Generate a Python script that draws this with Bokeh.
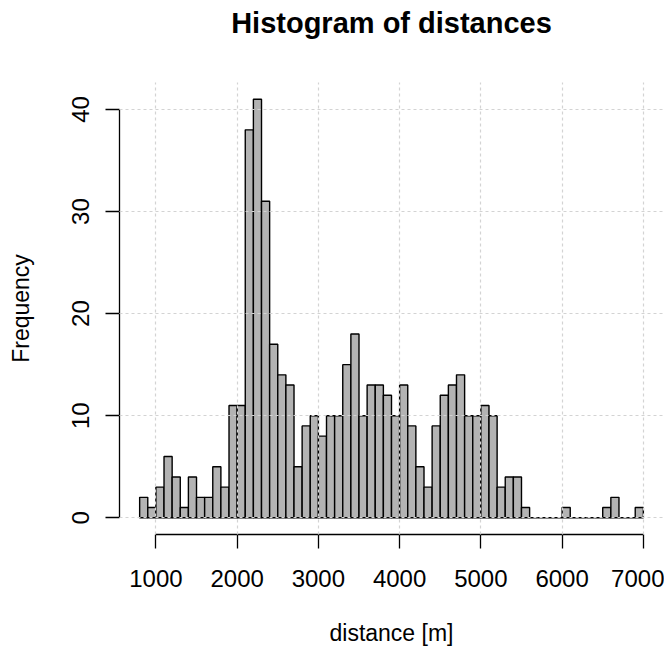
from bokeh.plotting import figure
from bokeh.models import FixedTicker, Range1d, Title
from bokeh.embed import file_html
from bokeh.resources import INLINE

# Histogram bins (lower edges, width 100 m) and counts
bin_width = 100
bin_starts = list(range(800, 7000, bin_width))
counts = [2, 1, 3, 6, 4, 1, 4, 2, 2, 5, 3, 11, 11, 38, 41, 31, 17, 14, 13, 5,
          9, 10, 8, 10, 10, 15, 18, 10, 13, 13, 12, 10, 13, 9, 5, 3, 9, 12, 13, 14,
          10, 10, 11, 10, 3, 4, 4, 1, 0, 0, 0, 0, 1, 0, 0, 0, 0, 1, 2, 0,
          0, 1]
x_ticks = [1000, 2000, 3000, 4000, 5000, 6000, 7000]
y_ticks = [0, 10, 20, 30, 40]
title_text = "Histogram of distances"

lefts = bin_starts
rights = [b + bin_width for b in bin_starts]

FONT = "Liberation Sans"

xmin, xmax = min(lefts), max(rights)
ymax = max(counts)
xpad = (xmax - xmin) * 0.04
ypad = ymax * 0.04

p = figure(width=664, height=648, output_backend="svg", toolbar_location=None,
           x_range=Range1d(xmin - xpad, xmax + xpad),
           y_range=Range1d(-ypad, ymax + ypad),
           min_border_left=119, min_border_right=1, min_border_top=82, min_border_bottom=110)
p.outline_line_color = None
p.background_fill_color = "white"

# spacer panel next to the frame, then the real title above it
spacer = Title(text=" ", text_font_size="1px", standoff=41)
p.add_layout(spacer, "above")
main_title = Title(text=title_text, align="center", text_font=FONT,
                   text_font_size="29px", text_font_style="bold", text_color="black",
                   standoff=0)
p.add_layout(main_title, "above")

p.quad(left=lefts, right=rights, bottom=0, top=counts,
       fill_color="#B3B3B3", line_color="black", line_width=1.4)

for ax, ticks in ((p.xaxis[0], x_ticks), (p.yaxis[0], y_ticks)):
    ax.ticker = FixedTicker(ticks=ticks)
    ax.minor_tick_line_color = None
    ax.major_tick_in = 0
    ax.major_tick_out = 14
    ax.axis_line_width = 1.3
    ax.major_tick_line_width = 1.3
    ax.major_label_text_font = FONT
    ax.major_label_text_font_size = "24px"
    ax.major_label_text_color = "black"
    ax.axis_label_text_font = FONT
    ax.axis_label_text_font_size = "23px"
    ax.axis_label_text_font_style = "normal"
    ax.axis_label_text_color = "black"

p.xaxis.bounds = (x_ticks[0], x_ticks[-1])
p.yaxis.bounds = (y_ticks[0], y_ticks[-1])
p.xaxis.axis_label = "distance [m]"
p.yaxis.axis_label = "Frequency"
p.xaxis.major_label_standoff = 21
p.xaxis.axis_label_standoff = 30
p.yaxis.major_label_standoff = 16
p.yaxis.axis_label_standoff = 36
p.yaxis.major_label_orientation = "vertical"

p.xgrid.ticker = FixedTicker(ticks=x_ticks)
p.ygrid.ticker = FixedTicker(ticks=y_ticks)
for g in (p.xgrid[0], p.ygrid[0]):
    g.grid_line_color = "#D3D3D3"
    g.grid_line_dash = "3 3"
    g.grid_line_width = 1.2
    g.level = "annotation"

open("out.html", "w").write(file_html(p, INLINE))
